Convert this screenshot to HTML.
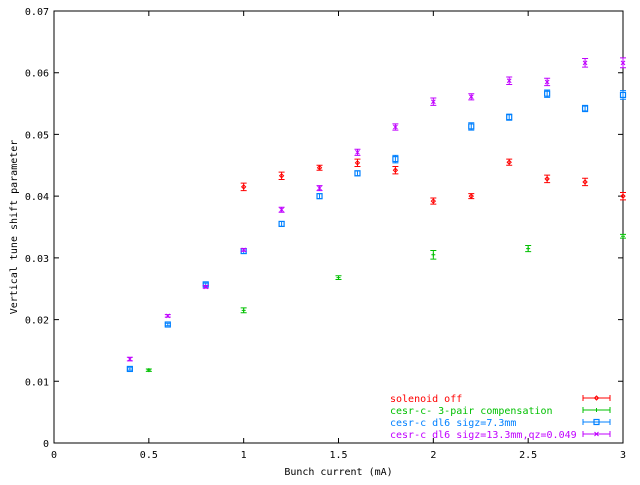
<!DOCTYPE html>
<html><head><meta charset="utf-8"><style>
body{margin:0;background:#fff;}
svg text{font-family:"DejaVu Sans Mono","Liberation Mono",monospace;font-size:10px;}
</style></head><body>
<svg id="chart" width="640" height="480" xmlns="http://www.w3.org/2000/svg">
<rect x="0" y="0" width="640" height="480" fill="#fff"/>
<g id="axes"></g>
<g id="marks"></g>
<g id="legend"></g>
</svg>
<script>
const xTicks=[0,0.5,1,1.5,2,2.5,3];
const xTickLabels=["0","0.5","1","1.5","2","2.5","3"];
const yTicks=[0,0.01,0.02,0.03,0.04,0.05,0.06,0.07];
const yTickLabels=["0","0.01","0.02","0.03","0.04","0.05","0.06","0.07"];
const seriesNames=["solenoid off","cesr-c- 3-pair compensation","cesr-c dl6 sigz=7.3mm","cesr-c dl6 sigz=13.3mm,qz=0.049"];
const redX=[1.0,1.2,1.4,1.6,1.8,2.0,2.2,2.4,2.6,2.8,3.0];
const redY=[0.0415,0.0433,0.0446,0.0454,0.0442,0.0392,0.0400,0.0455,0.0428,0.0423,0.0400];
const redErr=[0.0006,0.0006,0.0004,0.0006,0.0006,0.0005,0.0004,0.0005,0.0006,0.0006,0.0006];
const greenX=[0.5,1.0,1.5,2.0,2.5,3.0];
const greenY=[0.0118,0.0215,0.0268,0.0305,0.0315,0.0335];
const greenErr=[0.0002,0.0004,0.0003,0.0007,0.0005,0.0003];
const blueX=[0.4,0.6,0.8,1.0,1.2,1.4,1.6,1.8,2.2,2.4,2.6,2.8,3.0];
const blueY=[0.0120,0.0192,0.0257,0.0311,0.0355,0.0400,0.0437,0.0460,0.0513,0.0528,0.0566,0.0542,0.0564];
const blueErr=[0.0002,0.0002,0.0002,0.0004,0.0004,0.0004,0.0004,0.0006,0.0006,0.0005,0.0006,0.0005,0.0007];
const purpleX=[0.4,0.6,0.8,1.0,1.2,1.4,1.6,1.8,2.0,2.2,2.4,2.6,2.8,3.0];
const purpleY=[0.0136,0.0206,0.0253,0.0313,0.0378,0.0413,0.0471,0.0512,0.0553,0.0561,0.0587,0.0585,0.0616,0.0616];
const purpleErr=[0.0003,0.0002,0.0002,0.0002,0.0004,0.0004,0.0005,0.0005,0.0006,0.0005,0.0006,0.0006,0.0007,0.0008];

const NS="http://www.w3.org/2000/svg";
const L=54,R=623,T=11,B=443;
function sx(v){return L+(v-0)/(3-0)*(R-L);}
function sy(v){return B-(v-0)/(0.07-0)*(B-T);}
function mk(tag,attrs,parent){const e=document.createElementNS(NS,tag);for(const k in attrs)e.setAttribute(k,attrs[k]);parent.appendChild(e);return e;}
const axes=document.getElementById('axes');
const marks=document.getElementById('marks');
const legend=document.getElementById('legend');

const frame=mk('rect',{x:L,y:T,width:R-L,height:B-T,fill:'none',stroke:'#000','stroke-width':1},axes);


xTicks.forEach((v,i)=>{
  const x=sx(v);
  const t=mk('path',{d:`M${x} ${B}v-5M${x} ${T}v5`,stroke:'#000','stroke-width':1},axes);
  
  
  const lb=mk('text',{x:x,y:B+15,'text-anchor':'middle',fill:'#000'},axes);
  lb.textContent=xTickLabels[i];
  
  
});
yTicks.forEach((v,i)=>{
  const y=sy(v);
  const t=mk('path',{d:`M${L} ${y}h5M${R} ${y}h-5`,stroke:'#000','stroke-width':1},axes);
  
  
  const lb=mk('text',{x:L-5,y:y+4,'text-anchor':'end',fill:'#000'},axes);
  lb.textContent=yTickLabels[i];
  
  
});
const xt=mk('text',{x:(L+R)/2,y:475,'text-anchor':'middle',fill:'#000'},axes);
xt.textContent='Bunch current (mA)';


const yt=mk('text',{x:0,y:0,'text-anchor':'middle',fill:'#000',transform:`translate(17,${(T+B)/2}) rotate(-90)`},axes);
yt.textContent='Vertical tune shift parameter';



function point(kind,x,y,c,g){
  if(kind===0) mk('path',{d:`M${x-2} ${y}L${x} ${y-2}L${x+2} ${y}L${x} ${y+2}Z`,fill:'none',stroke:c,'stroke-width':1},g);
  else if(kind===1) mk('path',{d:`M${x-2} ${y}h4M${x} ${y-2}v4`,stroke:c,'stroke-width':1},g);
  else if(kind===2) mk('rect',{x:x-2.5,y:y-2.5,width:5,height:5,fill:'none',stroke:c,'stroke-width':1.2},g);
  else mk('path',{d:`M${x-2} ${y-2}L${x+2} ${y+2}M${x+2} ${y-2}L${x-2} ${y+2}`,stroke:c,'stroke-width':1},g);
}
const series=[[redX,redY,redErr,'#ff0000'],[greenX,greenY,greenErr,'#00c000'],[blueX,blueY,blueErr,'#0080ff'],[purpleX,purpleY,purpleErr,'#c000ff']];
const snames=['series-solenoid-off','series-3-pair-compensation','series-dl6-sigz-7.3','series-dl6-sigz-13.3'];
series.forEach((s,si)=>{
  const g=mk('g',{},marks);
  
  
  s[0].forEach((xv,i)=>{
    const x=sx(xv),y=sy(s[1][i]),y1=sy(s[1][i]-s[2][i]),y2=sy(s[1][i]+s[2][i]);
    const pg=mk('g',{},g);
    
    
    mk('path',{d:`M${x} ${y1}V${y2}M${x-3} ${y1}h6M${x-3} ${y2}h6`,stroke:s[3],'stroke-width':1},pg);
    point(si,x,y,s[3],pg);
  });
  const ly=398+si*12;
  const le=mk('g',{},legend);
  
  
  const tx=mk('text',{x:390,y:ly+4,fill:s[3]},le);
  tx.textContent=seriesNames[si];
  mk('path',{d:`M583 ${ly}h27M583 ${ly-3}v6M610 ${ly-3}v6`,stroke:s[3],'stroke-width':1},le);
  point(si,596.5,ly,s[3],le);
});
</script>
</body></html>
